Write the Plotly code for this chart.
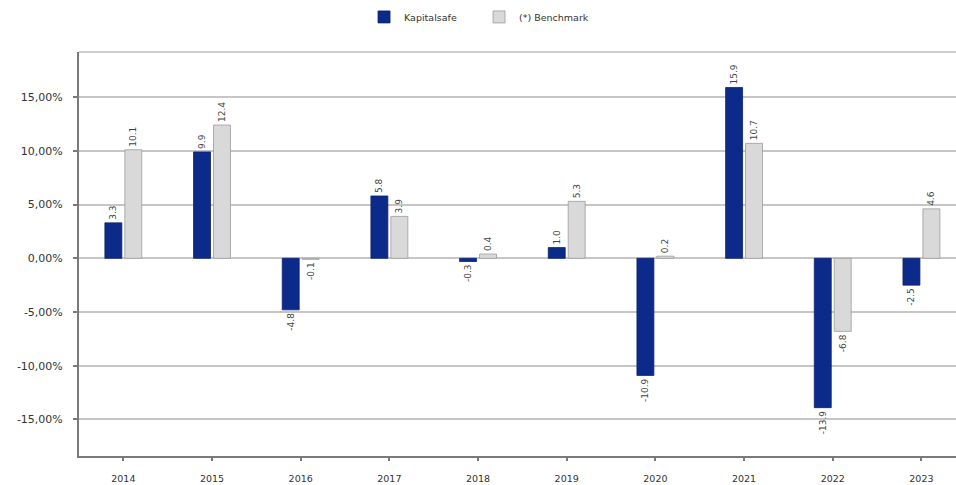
import plotly.graph_objects as go

years = ["2014", "2015", "2016", "2017", "2018", "2019", "2020", "2021", "2022", "2023"]
kapitalsafe = [3.3, 9.9, -4.8, 5.8, -0.3, 1.0, -10.9, 15.9, -13.9, -2.5]
benchmark = [10.1, 12.4, -0.1, 3.9, 0.4, 5.3, 0.2, 10.7, -6.8, 4.6]
y_ticks = [-15, -10, -5, 0, 5, 10, 15]
y_ticktext = ["-15,00%", "-10,00%", "-5,00%", "0,00%", "5,00%", "10,00%", "15,00%"]

FONT = "DejaVu Sans"
LABEL_COLOR = "#444444"

fig = go.Figure()
fig.add_trace(go.Bar(
    x=years, y=kapitalsafe, name="Kapitalsafe",
    marker=dict(color="#0b2a8a", line=dict(color="#0a2270", width=0.8)),
    text=[f"{v:.1f}" for v in kapitalsafe], textposition="outside", textangle=-90,
    constraintext="none",
    textfont=dict(family=FONT, size=9, color=LABEL_COLOR),
    outsidetextfont=dict(family=FONT, size=9, color=LABEL_COLOR), cliponaxis=False,
))
fig.add_trace(go.Bar(
    x=years, y=benchmark, name="(*) Benchmark",
    marker=dict(color="#d9d9d9", line=dict(color="#9c9c9c", width=0.8)),
    text=[f"{v:.1f}" for v in benchmark], textposition="outside", textangle=-90,
    constraintext="none",
    textfont=dict(family=FONT, size=9, color=LABEL_COLOR),
    outsidetextfont=dict(family=FONT, size=9, color=LABEL_COLOR), cliponaxis=False,
))

fig.update_layout(
    width=956, height=485,
    margin=dict(l=79, r=0, t=52, b=29),
    paper_bgcolor="white", plot_bgcolor="white",
    barmode="group", bargap=0.55, bargroupgap=0.15,
    font=dict(family=FONT, size=10, color="#333333"),
    legend=dict(orientation="h", x=0.325, xanchor="left", y=0.995, yanchor="top",
                yref="container", font=dict(family=FONT, size=9.5, color="#333333"),
                itemwidth=30, entrywidth=70, tracegroupgap=0),
    uniformtext=dict(mode=False),
    showlegend=True,
)
fig.update_xaxes(
    type="category", range=[-0.5, 9.39],
    showline=True, linecolor="#7a7a7a", linewidth=2,
    ticks="outside", ticklen=3, tickcolor="#7a7a7a", tickwidth=1.5,
    ticklabelstandoff=10, tickfont=dict(family=FONT, size=9.5, color="#333333"),
    showgrid=False,
)
fig.update_yaxes(
    range=[-18.4, 19.2],
    tickvals=y_ticks, ticktext=y_ticktext,
    showline=True, linecolor="#7a7a7a", linewidth=2,
    ticks="outside", ticklen=4, tickcolor="#7a7a7a", tickwidth=1.5,
    ticklabelstandoff=8, tickfont=dict(family=FONT, size=11, color="#333333"),
    showgrid=True, gridcolor="#c6c6c6", gridwidth=2,
    zeroline=True, zerolinecolor="#c6c6c6", zerolinewidth=2,
)
fig.add_shape(type="line", xref="paper", yref="paper", x0=0, x1=1, y0=1, y1=1,
              line=dict(color="#cfcfcf", width=2), layer="below")

fig.write_html("out.html")
